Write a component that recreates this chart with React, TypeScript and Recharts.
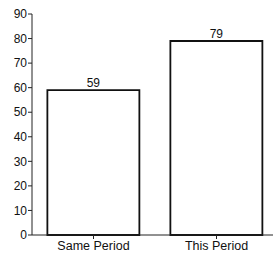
import { BarChart, Bar, XAxis, YAxis, LabelList } from "recharts";

const periods = ["Same Period", "This Period"];
const counts = [59, 79];
const yTicks = [0, 10, 20, 30, 40, 50, 60, 70, 80, 90];

const data = periods.map((name, i) => ({ name, count: counts[i] }));

const font = "'Liberation Sans', Arial, sans-serif";

export default function App() {
  return (
    <div
      style={{
        position: "absolute",
        left: 0,
        top: 0,
        width: 273,
        height: 257,
        overflow: "hidden",
        background: "#fff",
        fontFamily: font,
      }}
    >
      <BarChart
        width={278}
        height={257}
        data={data}
        margin={{ top: 14, right: 0, bottom: 0, left: 0 }}
        barCategoryGap="12.5%"
      >
        <XAxis
          dataKey="name"
          height={22}
          tickSize={4}
          stroke="#222"
          tick={{ fontSize: 12.5, fill: "#111" }}
        />
        <YAxis
          width={32}
          domain={[0, 90]}
          ticks={yTicks}
          interval={0}
          tickSize={4}
          tickMargin={1}
          stroke="#222"
          tick={{ fontSize: 12, fill: "#111" }}
        />
        <Bar
          dataKey="count"
          fill="#fff"
          stroke="#111"
          strokeWidth={1.8}
          isAnimationActive={false}
        >
          <LabelList
            dataKey="count"
            position="top"
            offset={3}
            style={{ fontSize: 12, fill: "#111" }}
          />
        </Bar>
      </BarChart>
    </div>
  );
}
